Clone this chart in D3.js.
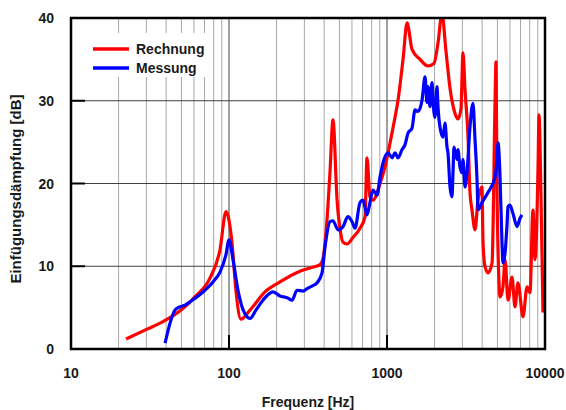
<!DOCTYPE html>
<html>
<head>
<meta charset="utf-8">
<script src="https://cdn.jsdelivr.net/npm/d3@7/dist/d3.min.js"></script>
<style>
html,body{margin:0;padding:0;background:#fff;}
svg text{font-family:"Liberation Sans",Arial,sans-serif;font-weight:bold;fill:#1a1a1a;}
</style>
</head>
<body>
<svg id="chart" width="566" height="410"></svg>
<script>
const xTicks = [10, 100, 1000, 10000];
const yTicks = [0, 10, 20, 30, 40];
const seriesNames = ["Rechnung", "Messung"];
const seriesColors = ["#ff0000", "#0000ff"];

const redFreq = [22.3,30.3,38.2,49.7,60.9,75.9,87.7,95.7,104.5,110.7,119,135.8,169,210,281,326,377,394,417,436,455,483,505,527,559,610,675,726,747,780,815,904,971,1045,1124,1175,1263,1340,1440,1618,1817,1983,2103,2228,2362,2505,2692,2812,2938,3027,3118,3258,3350,3451,3606,3767,3990,4053,4168,4355,4623,4831,4898,4966,5117,5188,5420,5585,5834,6184,6457,6745,7261,7691,8035,8395,8650,9036,9163,9441,9708];
const redDb = [1.2,2.4,3.3,4.7,6.3,8.6,12,16.6,12.8,7,3.6,4.7,6.9,8.1,9.4,9.8,10.2,11,15.6,21.5,27.7,18,14.4,12.9,12.7,13.5,14.6,16,23.1,18.4,18,20,22,24.9,28,30.1,35,39.4,36.2,35,34.2,34.5,37,40.5,36,31.5,28.5,27.8,29,35.8,31.3,25.6,19,16.8,14.4,18,19.6,12.9,10,9.2,10.4,30,34.7,20,8,6.3,7.5,10.8,5.9,8.7,5.1,8,3.9,7.5,6.8,16.8,10.8,22,28.3,18,4.4];

const blueFreq = [39.4,42.3,45.5,49,52.7,56.6,62.7,70.4,79.2,87.7,95.7,100,106,114,123,136,148,164,190,210,233,251,269,294,312,335,361,388,405,436,455,490,527,566,600,627,675,705,747,780,815,865,904,944,1015,1076,1124,1175,1245,1301,1359,1440,1504,1571,1667,1741,1791,1817,1871,1927,1954,2013,2072,2103,2165,2262,2328,2398,2432,2505,2578,2616,2655,2774,2812,2896,2984,3027,3118,3209,3350,3500,3606,3715,3767,3990,4355,4831,4966,5045,5188,5344,5420,5585,5741,5834,6000,6266,6653,6950,7145];
const blueDb = [0.7,3.1,4.7,5.1,5.3,5.7,6.3,7.1,8.1,9.3,11.4,13.2,10.8,7.1,4.7,3.7,4.7,5.9,6.9,6.4,6.2,5.9,7.1,7.0,7.3,7.6,8,9.2,12.3,15.4,15.5,14.4,14.8,16,15.4,14.6,17.7,18,16.2,17.7,19.2,18.6,20.8,22.5,23.7,23.1,23.7,23.1,24.1,24.7,26.1,26.7,28.9,28.7,30.1,32.9,29.8,31.7,29.3,32.2,30.1,28,31.7,29.3,26.8,25.6,27.3,24.4,23.7,19.6,18.4,21.3,24.4,22.9,24.1,22,21.3,22.9,19.6,21.3,26.8,29.7,25.3,20.4,16.8,17.7,18.9,20.8,22.9,24.9,21,12.8,10.4,11.6,14.8,17.2,17.4,16.4,14.8,15.8,16.2];

const svg = d3.select("#chart");
const L = 71, R = 545, T = 18, B = 349;
const x = d3.scaleLog().domain([10, 10000]).range([L, R]);
const y = d3.scaleLinear().domain([0, 40]).range([B, T]);

// minor vertical grid
const minor = [];
for (let d = 10; d < 10000; d *= 10) for (let k = 2; k <= 9; k++) minor.push(d * k);
svg.append("g").selectAll("line").data(minor).join("line")
  .attr("x1", d => x(d)).attr("x2", d => x(d)).attr("y1", T).attr("y2", B)
  .attr("stroke", "#a8a8a8").attr("stroke-width", 1);
// major vertical grid
svg.append("g").selectAll("line").data([100, 1000]).join("line")
  .attr("x1", d => x(d)).attr("x2", d => x(d)).attr("y1", T).attr("y2", B)
  .attr("stroke", "#404040").attr("stroke-width", 1);
// horizontal grid
svg.append("g").selectAll("line").data([10, 20, 30]).join("line")
  .attr("x1", L).attr("x2", R).attr("y1", d => y(d)).attr("y2", d => y(d))
  .attr("stroke", "#404040").attr("stroke-width", 1);

// legend background
svg.append("rect").attr("x", 86).attr("y", 33).attr("width", 120).attr("height", 44).attr("fill", "#fff");

// clip
svg.append("clipPath").attr("id", "clip").append("rect")
  .attr("x", L).attr("y", T).attr("width", R - L).attr("height", B - T);

const line = d3.line().curve(d3.curveMonotoneX).x(d => x(d[0])).y(d => y(d[1]));
const redData = redFreq.map((f, i) => [f, redDb[i]]);
const blueData = blueFreq.map((f, i) => [f, blueDb[i]]);
const g = svg.append("g").attr("clip-path", "url(#clip)");
g.append("path").datum(redData).attr("d", line).attr("fill", "none")
  .attr("stroke", seriesColors[0]).attr("stroke-width", 3.2).attr("stroke-linejoin", "round");
g.append("path").datum(blueData).attr("d", line).attr("fill", "none")
  .attr("stroke", seriesColors[1]).attr("stroke-width", 3.2).attr("stroke-linejoin", "round");

// ticks
svg.append("g").selectAll("line").data([10, 20, 30]).join("line")
  .attr("x1", L).attr("x2", L + 14).attr("y1", d => y(d)).attr("y2", d => y(d))
  .attr("stroke", "#000").attr("stroke-width", 2);
svg.append("g").selectAll("line").data([100, 1000]).join("line")
  .attr("x1", d => x(d)).attr("x2", d => x(d)).attr("y1", B).attr("y2", B - 14)
  .attr("stroke", "#000").attr("stroke-width", 2);

// frame
svg.append("rect").attr("x", L).attr("y", T).attr("width", R - L).attr("height", B - T)
  .attr("fill", "none").attr("stroke", "#000").attr("stroke-width", 2.5);

// tick labels
svg.append("g").selectAll("text").data(yTicks).join("text")
  .attr("x", 54).attr("y", d => y(d) + 5).attr("text-anchor", "end")
  .attr("font-size", 14).text(d => d);
svg.append("g").selectAll("text").data(xTicks).join("text")
  .attr("x", d => x(d)).attr("y", 378).attr("text-anchor", "middle")
  .attr("font-size", 14).text(d => d);

// axis titles
svg.append("text").attr("x", 308).attr("y", 407).attr("text-anchor", "middle")
  .attr("font-size", 14).text("Frequenz [Hz]");
svg.append("text").attr("transform", "translate(21,189) rotate(-90)")
  .attr("text-anchor", "middle").attr("font-size", 15).text("Einfügungsdämpfung [dB]");

// legend
seriesNames.forEach((n, i) => {
  const yy = 49 + i * 19;
  svg.append("line").attr("x1", 93).attr("x2", 129).attr("y1", yy).attr("y2", yy)
    .attr("stroke", seriesColors[i]).attr("stroke-width", 3.5);
  svg.append("text").attr("x", 136).attr("y", yy + 5).attr("font-size", 14).text(n);
});
</script>
</body>
</html>
